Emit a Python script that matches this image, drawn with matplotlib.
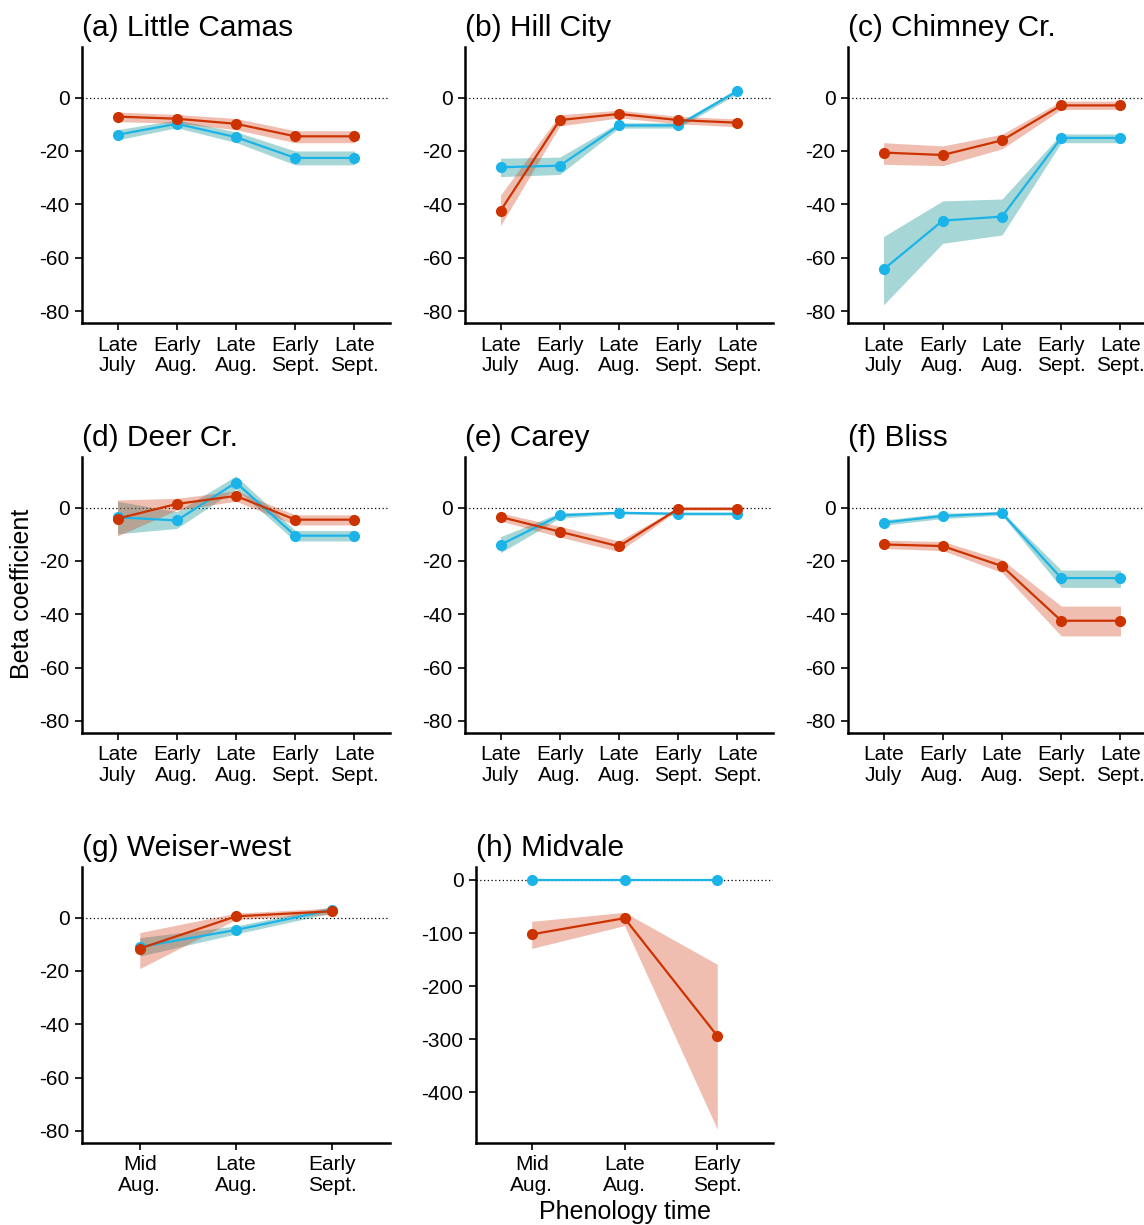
import matplotlib
matplotlib.use('Agg')
import matplotlib.pyplot as plt

plt.rcParams['font.family'] = ['Liberation Sans', 'DejaVu Sans']
plt.rcParams['axes.unicode_minus'] = False

# --------------------------------------------------------------------------------------
# Data: beta coefficients with ribbon bounds (red series / blue series)

times5 = ['Late\nJuly', 'Early\nAug.', 'Late\nAug.', 'Early\nSept.', 'Late\nSept.']
times3 = ['Mid\nAug.', 'Late\nAug.', 'Early\nSept.']

# (a) Little Camas
camas_red    = [-7.1, -7.9, -9.8, -14.5, -14.5]
camas_red_lo = [-9.0, -9.6, -12.0, -16.9, -16.9]
camas_red_hi = [-5.4, -6.3, -7.8, -12.4, -12.4]
camas_blu    = [-13.9, -9.8, -14.8, -22.6, -22.6]
camas_blu_lo = [-15.8, -11.3, -16.8, -25.2, -25.2]
camas_blu_hi = [-12.0, -8.3, -12.8, -20.0, -20.0]

# (b) Hill City
hill_red    = [-42.4, -8.4, -6.1, -8.4, -9.4]
hill_red_lo = [-48.0, -10.6, -7.6, -9.8, -10.9]
hill_red_hi = [-36.5, -6.4, -4.7, -7.0, -8.0]
hill_blu    = [-26.1, -25.5, -10.4, -10.4, 2.5]
hill_blu_lo = [-29.6, -28.8, -11.4, -11.4, 1.5]
hill_blu_hi = [-22.7, -22.3, -9.4, -9.4, 3.5]

# (c) Chimney Cr.
chim_red    = [-20.6, -21.5, -16.0, -2.9, -2.9]
chim_red_lo = [-25.0, -25.5, -19.2, -4.4, -4.4]
chim_red_hi = [-16.9, -18.1, -13.7, -1.3, -1.3]
chim_blu    = [-64.4, -46.1, -44.6, -15.1, -15.1]
chim_blu_lo = [-77.7, -54.6, -51.5, -16.9, -16.9]
chim_blu_hi = [-52.1, -38.7, -38.0, -13.6, -13.6]

# (d) Deer Cr.
deer_red    = [-4.1, 1.4, 4.4, -4.5, -4.5]
deer_red_lo = [-10.6, -0.9, 2.4, -6.5, -6.5]
deer_red_hi = [2.9, 3.5, 6.3, -2.7, -2.7]
deer_blu    = [-3.6, -4.8, 9.4, -10.5, -10.5]
deer_blu_lo = [-9.8, -7.8, 6.9, -12.5, -12.5]
deer_blu_hi = [2.4, -1.5, 11.9, -8.6, -8.6]

# (e) Carey
carey_red    = [-3.5, -9.0, -14.5, -0.4, -0.4]
carey_red_lo = [-5.0, -11.0, -16.5, -0.9, -0.9]
carey_red_hi = [-2.0, -7.0, -12.5, 0.1, 0.1]
carey_blu    = [-13.9, -2.9, -1.9, -2.3, -2.3]
carey_blu_lo = [-16.9, -3.9, -2.4, -2.8, -2.8]
carey_blu_hi = [-10.9, -1.9, -1.4, -1.8, -1.8]

# (f) Bliss
bliss_red    = [-13.8, -14.4, -21.9, -42.4, -42.4]
bliss_red_lo = [-15.3, -16.1, -24.3, -48.1, -48.1]
bliss_red_hi = [-12.2, -12.7, -19.5, -36.9, -36.9]
bliss_blu    = [-5.6, -3.1, -2.1, -26.4, -26.4]
bliss_blu_lo = [-6.6, -4.1, -2.8, -29.9, -29.9]
bliss_blu_hi = [-4.6, -2.1, -1.4, -23.4, -23.4]

# (g) Weiser-west
weiser_red    = [-11.6, 0.5, 2.4]
weiser_red_lo = [-19.1, -0.7, 1.2]
weiser_red_hi = [-5.6, 1.7, 3.6]
weiser_blu    = [-11.0, -4.6, 3.0]
weiser_blu_lo = [-14.4, -6.1, 1.8]
weiser_blu_hi = [-7.5, -3.1, 4.2]

# (h) Midvale
midvale_red    = [-102.5, -72.0, -294.0]
midvale_red_lo = [-129.0, -86.0, -470.0]
midvale_red_hi = [-78.0, -61.0, -159.0]
midvale_blu    = [0.0, 0.0, 0.0]
midvale_blu_lo = [0.0, 0.0, 0.0]
midvale_blu_hi = [0.0, 0.0, 0.0]

# --------------------------------------------------------------------------------------
# Panels: title, labels, series

panels = [
    ('(a) Little Camas', times5, camas_red, camas_red_lo, camas_red_hi, camas_blu, camas_blu_lo, camas_blu_hi),
    ('(b) Hill City', times5, hill_red, hill_red_lo, hill_red_hi, hill_blu, hill_blu_lo, hill_blu_hi),
    ('(c) Chimney Cr.', times5, chim_red, chim_red_lo, chim_red_hi, chim_blu, chim_blu_lo, chim_blu_hi),
    ('(d) Deer Cr.', times5, deer_red, deer_red_lo, deer_red_hi, deer_blu, deer_blu_lo, deer_blu_hi),
    ('(e) Carey', times5, carey_red, carey_red_lo, carey_red_hi, carey_blu, carey_blu_lo, carey_blu_hi),
    ('(f) Bliss', times5, bliss_red, bliss_red_lo, bliss_red_hi, bliss_blu, bliss_blu_lo, bliss_blu_hi),
    ('(g) Weiser-west', times3, weiser_red, weiser_red_lo, weiser_red_hi, weiser_blu, weiser_blu_lo, weiser_blu_hi),
    ('(h) Midvale', times3, midvale_red, midvale_red_lo, midvale_red_hi, midvale_blu, midvale_blu_lo, midvale_blu_hi),
]

# axes boxes in pixels: left, top, width
W, H = 1144, 1225
boxes = [(82, 47, 308), (465, 47, 308), (848, 47, 308),
         (82, 457, 308), (465, 457, 308), (848, 457, 308),
         (82, 867, 308), (476, 867, 297)]
axh = 276

redcol  = '#CC3300'
redfill = '#D2461E'
blucol  = '#1BB4E8'
blufill = '#008B8B'

fig = plt.figure(figsize=(W / 100, H / 100), dpi=100)

for i, (title, labels, r, rlo, rhi, b, blo, bhi) in enumerate(panels):
    left, top, width = boxes[i]
    ax = fig.add_axes([left / W, 1 - (top + axh) / H, width / W, axh / H])
    x = list(range(1, len(labels) + 1))

    ax.axhline(0, color='k', linestyle=(0, (1, 2)), linewidth=0.9, zorder=1)

    ax.fill_between(x, blo, bhi, color=blufill, alpha=0.35, linewidth=0, zorder=2)
    ax.fill_between(x, rlo, rhi, color=redfill, alpha=0.35, linewidth=0, zorder=2)
    ax.plot(x, b, color=blucol, linewidth=1.6, marker='o', markersize=7, zorder=3)
    ax.plot(x, r, color=redcol, linewidth=1.6, marker='o', markersize=7, zorder=4)

    ax.set_xlim(0.4, len(labels) + 0.6)
    ax.set_xticks(x)
    ax.set_xticklabels(labels, fontsize=15, linespacing=1.12)

    if i == 7:
        ax.set_ylim(-496, 24.5)
        ax.set_yticks([0, -100, -200, -300, -400])
    else:
        ax.set_ylim(-84.5, 19)
        ax.set_yticks([0, -20, -40, -60, -80])
    ax.tick_params(axis='y', labelsize=15, pad=4)
    ax.tick_params(axis='x', pad=4)
    ax.tick_params(direction='out', length=5, width=1.2, color='k')

    for s in ['top', 'right']:
        ax.spines[s].set_visible(False)
    for s in ['left', 'bottom']:
        ax.spines[s].set_linewidth(1.8)

    ax.set_title(title, loc='left', fontsize=21.5, pad=8)

fig.text(22 / W, 1 - 594 / H, 'Beta coefficient', rotation=90, fontsize=18,
         ha='center', va='center')
fig.text(625 / W, 1 - 1212 / H, 'Phenology time', fontsize=18,
         ha='center', va='center')

fig.savefig('out.png', dpi=100)
